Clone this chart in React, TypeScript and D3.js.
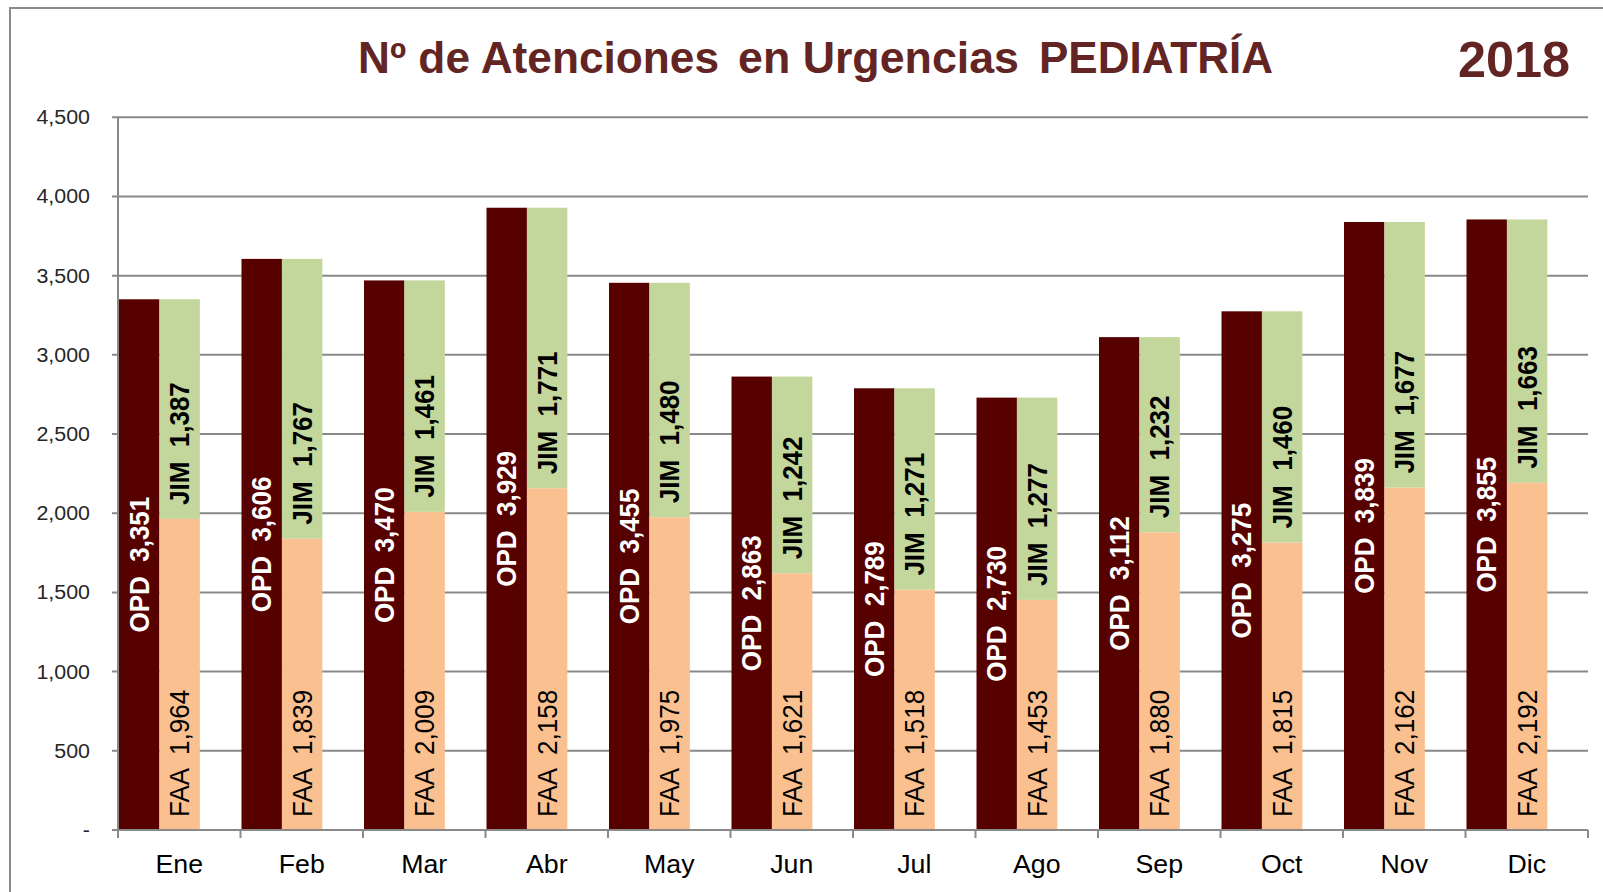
import React, { useEffect, useRef } from 'react';
import * as d3 from 'd3';

const months = ['Ene', 'Feb', 'Mar', 'Abr', 'May', 'Jun', 'Jul', 'Ago', 'Sep', 'Oct', 'Nov', 'Dic'];
const opd = [3351, 3606, 3470, 3929, 3455, 2863, 2789, 2730, 3112, 3275, 3839, 3855];
const faa = [1964, 1839, 2009, 2158, 1975, 1621, 1518, 1453, 1880, 1815, 2162, 2192];
const jim = [1387, 1767, 1461, 1771, 1480, 1242, 1271, 1277, 1232, 1460, 1677, 1663];
const yTicks = [0, 500, 1000, 1500, 2000, 2500, 3000, 3500, 4000, 4500];
const titleParts = ['Nº de Atenciones', 'en Urgencias', 'PEDIATRÍA'];

const W = 1603, H = 892;
const FONT = "'Liberation Sans', Arial, sans-serif";
const SX = 1.07; // the source picture is a bit wider than tall

export default function App() {
  const ref = useRef<SVGSVGElement>(null);

  useEffect(() => {
    const svg = d3.select(ref.current);
    svg.selectAll('*').remove();

    const left = 118, right = 1588, top = 117.3, bottom = 830;
    const x = d3.scaleBand<string>().domain(months).range([left, right]).padding(0);
    const y = d3.scaleLinear().domain([0, 4500]).range([bottom, top]);
    const bw = x.step() * 0.33;
    const fmt = d3.format(',');

    // outer frame
    svg.append('rect')
      .attr('x', 10).attr('y', 8).attr('width', W).attr('height', H + 20)
      .attr('fill', 'none').attr('stroke', '#8c8c8c').attr('stroke-width', 2);

    // title, in three pieces (word gaps are wider in the original)
    const titleX = [[358, 361], [738, 281], [1039, 234]];
    titleParts.forEach((t, i) => {
      svg.append('text')
        .attr('x', titleX[i][0]).attr('y', 73)
        .attr('textLength', titleX[i][1]).attr('lengthAdjust', 'spacingAndGlyphs')
        .attr('font-family', FONT).attr('font-weight', 'bold').attr('font-size', 44)
        .attr('fill', '#632523')
        .text(t);
    });

    svg.append('text')
      .attr('x', 1458).attr('y', 77)
      .attr('textLength', 112).attr('lengthAdjust', 'spacingAndGlyphs')
      .attr('font-family', FONT).attr('font-weight', 'bold').attr('font-size', 50)
      .attr('fill', '#632523')
      .text('2018');

    // gridlines + y ticks
    const g = svg.append('g');
    g.selectAll('.grid').data(yTicks).enter().append('line')
      .attr('x1', left - 6).attr('x2', right)
      .attr('y1', d => y(d)).attr('y2', d => y(d))
      .attr('stroke', '#898989').attr('stroke-width', 2);

    g.selectAll('.ylab').data(yTicks).enter().append('text')
      .attr('transform', d => `translate(90,${y(d)}) scale(${SX},1)`)
      .attr('dy', '0.35em')
      .attr('text-anchor', 'end')
      .attr('font-family', FONT).attr('font-size', 20).attr('fill', '#262626')
      .text(d => (d === 0 ? '-' : fmt(d)));

    // bars
    const bars = svg.append('g');
    months.forEach((m, i) => {
      const x0 = x(m)! + 1;
      bars.append('rect')
        .attr('x', x0).attr('y', y(opd[i]))
        .attr('width', bw).attr('height', bottom - y(opd[i]))
        .attr('fill', '#560000');
      bars.append('rect')
        .attr('x', x0 + bw).attr('y', y(faa[i]))
        .attr('width', bw).attr('height', bottom - y(faa[i]))
        .attr('fill', '#FAC090');
      bars.append('rect')
        .attr('x', x0 + bw).attr('y', y(faa[i] + jim[i]))
        .attr('width', bw).attr('height', y(faa[i]) - y(faa[i] + jim[i]))
        .attr('fill', '#C3D69B');

      // labels
      const cx1 = x0 + bw / 2, cx2 = x0 + bw * 1.5;
      bars.append('text')
        .attr('transform', `translate(${cx1},${(bottom + y(opd[i])) / 2}) scale(${SX},1) rotate(-90)`)
        .attr('dy', '0.35em').attr('text-anchor', 'middle')
        .style('white-space', 'pre')
        .attr('font-family', FONT).attr('font-weight', 'bold').attr('font-size', 26)
        .attr('fill', '#ffffff')
        .text('OPD  ' + fmt(opd[i]));
      bars.append('text')
        .attr('transform', `translate(${cx2},${bottom - 13}) scale(${SX},1) rotate(-90)`)
        .attr('dy', '0.35em').attr('text-anchor', 'start')
        .style('white-space', 'pre')
        .attr('font-family', FONT).attr('font-size', 26)
        .attr('fill', '#000000')
        .text('FAA  ' + fmt(faa[i]));
      bars.append('text')
        .attr('transform', `translate(${cx2},${y(faa[i]) - 14}) scale(${SX},1) rotate(-90)`)
        .attr('dy', '0.35em').attr('text-anchor', 'start')
        .style('white-space', 'pre')
        .attr('font-family', FONT).attr('font-weight', 'bold').attr('font-size', 26)
        .attr('fill', '#000000')
        .text('JIM  ' + fmt(jim[i]));
    });

    // axes
    const ax = svg.append('g');
    ax.append('line')
      .attr('x1', left).attr('x2', left).attr('y1', top).attr('y2', bottom + 8)
      .attr('stroke', '#898989').attr('stroke-width', 2);
    ax.append('line')
      .attr('x1', left).attr('x2', right).attr('y1', bottom).attr('y2', bottom)
      .attr('stroke', '#898989').attr('stroke-width', 2);
    const edges = months.map(m => x(m)!).concat([right]);
    ax.selectAll('.xt').data(edges).enter().append('line')
      .attr('x1', d => d).attr('x2', d => d)
      .attr('y1', bottom).attr('y2', bottom + 8)
      .attr('stroke', '#898989').attr('stroke-width', 2);
    ax.selectAll('.xl').data(months).enter().append('text')
      .attr('transform', d => `translate(${x(d)! + x.step() / 2},873) scale(${SX},1)`)
      .attr('text-anchor', 'middle')
      .attr('font-family', FONT).attr('font-size', 25).attr('fill', '#000000')
      .text(d => d);
  }, []);

  return (
    <svg
      ref={ref}
      width={W}
      height={H}
      style={{ position: 'absolute', left: 0, top: 0, background: '#ffffff' }}
    />
  );
}
